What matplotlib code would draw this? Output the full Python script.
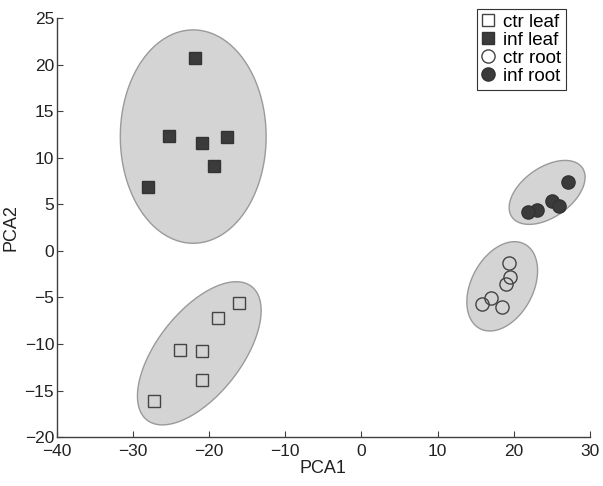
import matplotlib
matplotlib.use("Agg")
import matplotlib.pyplot as plt
import numpy as np

plt.rcParams['font.family'] = ['Liberation Sans', 'DejaVu Sans']

# PCA scores per group
ctr_leaf_x = [-16.1, -18.8, -23.9, -21.0, -20.9, -27.2]
ctr_leaf_y = [-5.6, -7.2, -10.6, -10.7, -13.9, -16.1]
inf_leaf_x = [-21.9, -25.3, -17.7, -20.9, -19.4, -28.0]
inf_leaf_y = [20.8, 12.4, 12.3, 11.6, 9.1, 6.9]
ctr_root_x = [19.4, 19.5, 19.0, 17.0, 15.9, 18.5]
ctr_root_y = [-1.25, -2.8, -3.6, -5.1, -5.7, -6.0]
inf_root_x = [27.2, 25.0, 25.9, 23.1, 21.9]
inf_root_y = [7.4, 5.4, 4.8, 4.4, 4.2]

# group ellipses: centre, first and second conjugate semi-axis vectors
ell_centers = [(-22.1, 12.3), (-21.3, -11.0), (18.5, -3.8), (24.4, 6.3)]
ell_u = [(9.58, 0.0), (6.87, 7.18), (2.95, 4.54), (4.62, 2.65)]
ell_v = [(0.0, 11.47), (-4.34, 2.77), (-3.59, 1.56), (-1.88, 2.19)]


def add_ellipse(ax, c, u, v):
    t = np.linspace(0, 2 * np.pi, 200)
    ex = c[0] + u[0] * np.cos(t) + v[0] * np.sin(t)
    ey = c[1] + u[1] * np.cos(t) + v[1] * np.sin(t)
    ax.fill(ex, ey, facecolor='#d4d4d4', edgecolor='#9a9a9a', lw=1.0, zorder=1)


fig = plt.figure(figsize=(6.03, 4.86), dpi=100)
ax = fig.add_axes([0.0945, 0.1008, 0.8835, 0.8612])

for c, u, v in zip(ell_centers, ell_u, ell_v):
    add_ellipse(ax, c, u, v)

edge = '#333333'
ax.plot(ctr_leaf_x, ctr_leaf_y, 's', ms=8.5, mfc='none', mec='#444444', mew=1.0,
        label='ctr leaf', zorder=3)
ax.plot(inf_leaf_x, inf_leaf_y, 's', ms=8.5, mfc='#3b3b3b', mec=edge, mew=1.0,
        label='inf leaf', zorder=3)
ax.plot(ctr_root_x, ctr_root_y, 'o', ms=9.5, mfc='none', mec='#444444', mew=1.0,
        label='ctr root', zorder=3)
ax.plot(inf_root_x, inf_root_y, 'o', ms=9.5, mfc='#3b3b3b', mec=edge, mew=1.0,
        label='inf root', zorder=3)

ax.set_xlim(-40, 30)
ax.set_ylim(-20, 25)
ax.set_xticks(np.arange(-40, 31, 10))
ax.set_yticks(np.arange(-20, 26, 5))
ax.spines['top'].set_visible(False)
ax.spines['right'].set_visible(False)
for s in ('left', 'bottom'):
    ax.spines[s].set_color('#404040')
    ax.spines[s].set_linewidth(1.0)
ax.tick_params(direction='in', length=4, width=0.8, color='#404040',
               labelsize=12.5, labelcolor='#222222')
ax.tick_params(axis='x', pad=5)
ax.tick_params(axis='y', pad=2)
ax.set_xlabel('PCA1', fontsize=13, color='#222222', labelpad=1)
ax.set_ylabel('PCA2', fontsize=13, color='#222222', labelpad=4)

# legend sits partly above the axes, like a MATLAB 'NorthEast' box
leg = ax.legend(loc='upper right', bbox_to_anchor=(0.9386, 0.9815),
                bbox_transform=fig.transFigure, fontsize=13.5, frameon=True,
                fancybox=False, framealpha=1, edgecolor='#333333',
                handlelength=0.7, handletextpad=0.45, labelspacing=0.05,
                borderpad=0.25, borderaxespad=0)
leg.get_frame().set_linewidth(0.8)

fig.savefig('out.png', dpi=100)
